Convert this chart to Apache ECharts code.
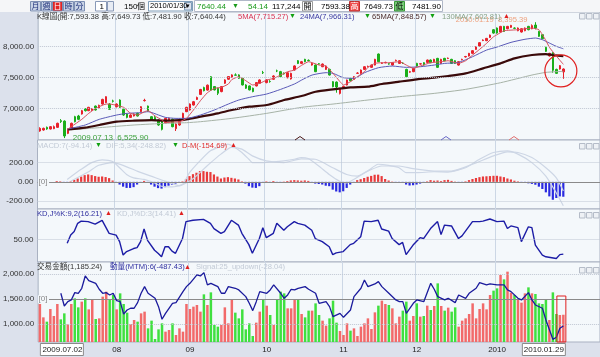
<!DOCTYPE html>
<html><head><meta charset="utf-8">
<script src="https://cdn.jsdelivr.net/npm/echarts@6/dist/echarts.min.js"></script>
<style>html,body{margin:0;padding:0;background:#dce1ec}#c{width:600px;height:357px}</style>
</head><body><div id="c"></div>
<script>
const FONT = '"Liberation Sans","Noto Sans CJK TC",sans-serif';

// ---- categories (trading days) ----
const monthDays = [
 ['2009.07',[2,3,6,7,8,9,10,13,14,15,16,17,20,21,22,23,24,27,28,29,30,31]],
 ['2009.08',[3,4,5,6,7,10,11,12,13,14,17,18,19,20,21,24,25,26,27,28,31]],
 ['2009.09',[1,2,3,4,7,8,9,10,11,14,15,16,17,18,21,22,23,24,25,28,29,30]],
 ['2009.10',[1,2,5,6,7,8,9,12,13,14,15,16,19,20,21,22,23,26,27,28,29,30]],
 ['2009.11',[2,3,4,5,6,9,10,11,12,13,16,17,18,19,20,23,24,25,26,27,30]],
 ['2009.12',[1,2,3,4,7,8,9,10,11,14,15,16,17,18,21,22,23,24,25,28,29,30,31]],
 ['2010.01',[4,5,6,7,8,11,12,13,14,15,18,19,20,21,22,25,26,27,28,29]]
];
const dates = [];
monthDays.forEach(([m, ds]) => ds.forEach(d => dates.push(m + '.' + String(d).padStart(2,'0'))));
const padCats = ['p1','p2','p3','p4','p5','p6','p7','p8','p9','p10'];
const categories = dates.concat(padCats);

// ---- price candles [open, close, low, high] ----
const ohlc = [
[6640,6683,6628,6700],[6656,6683,6645,6695],[6699,6672,6660,6712],[6672,6710,6665,6720],[6678,6710,6670,6728],
[6699,6764,6690,6775],[6807,6792,6770,6832],[6800,6560,6525.9,6812],[6602,6667,6590,6680],[6667,6764,6655,6775],
[6871,6790,6780,6885],[6882,6828,6815,6900],[6914,6968,6905,6980],[7000,6968,6955,7010],[6968,7022,6960,7030],
[6973,7000,6965,7010],[7043,6979,6970,7050],[7011,7054,7000,7065],[7075,7150,7065,7160],[7097,7194,7090,7200],
[7075,6990,6980,7090],[7125,7120,7100,7145],[7032,7075,7020,7085],[7140,7022,7010,7150],[6990,6898,6885,7000],
[6914,6860,6845,6925],[6860,6898,6850,6910],[6882,6914,6875,6925],[6925,6882,6875,6935],[6952,7032,6945,7040],
[7130,7135,7115,7160],[7043,6962,6955,7050],[6871,6817,6805,6880],[6860,6817,6810,6880],[6817,6737,6725,6825],
[6790,6667,6650,6800],[6774,6844,6765,6855],[6817,6844,6805,6855],[6828,6710,6700,6840],[6678,6753,6640,6765],
[6737,6828,6725,6840],[6807,6925,6800,6935],[6952,7022,6945,7030],[6979,7075,6970,7085],[7059,7113,7050,7125],
[7150,7180,7140,7195],[7230,7310,7220,7320],[7340,7290,7280,7355],[7300,7380,7290,7390],[7516,7300,7290,7525],
[7357,7303,7295,7365],[7330,7249,7220,7340],[7276,7357,7265,7365],[7410,7464,7400,7475],[7475,7518,7465,7525],
[7507,7545,7500,7555],[7545,7540,7535,7570],[7545,7491,7480,7555],[7491,7383,7375,7500],[7383,7330,7320,7395],
[7367,7303,7295,7375],[7330,7276,7265,7340],[7367,7421,7360,7430],[7410,7464,7400,7475],[7582,7580,7560,7610],
[7421,7464,7410,7475],[7440,7437,7420,7460],[7475,7528,7465,7540],[7610,7608,7590,7630],[7598,7518,7510,7610],
[7570,7562,7550,7585],[7500,7580,7490,7590],[7480,7570,7470,7580],[7625,7690,7615,7700],[7775,7730,7720,7785],
[7731,7758,7720,7770],[7796,7758,7750,7805],[7780,7774,7765,7795],[7704,7731,7695,7740],[7704,7597,7590,7715],
[7725,7720,7710,7735],[7677,7720,7670,7730],[7634,7688,7625,7695],[7634,7543,7535,7645],[7436,7355,7345,7445],
[7430,7350,7258,7440],[7247,7328,7230,7335],[7330,7360,7320,7370],[7382,7462,7375,7470],[7489,7451,7440,7500],
[7473,7516,7465,7525],[7570,7575,7560,7590],[7570,7624,7560,7632],[7634,7677,7625,7685],[7677,7682,7668,7695],
[7667,7704,7660,7712],[7704,7796,7698,7805],[7882,7758,7750,7890],[7731,7736,7722,7748],[7742,7747,7732,7758],
[7725,7720,7710,7735],[7704,7742,7696,7750],[7774,7780,7765,7792],[7731,7774,7722,7782],[7736,7731,7722,7748],
[7634,7516,7505,7645],[7590,7597,7580,7610],[7597,7651,7590,7660],[7731,7688,7680,7740],[7720,7725,7710,7735],
[7742,7704,7695,7750],[7747,7785,7740,7792],[7785,7742,7735,7795],[7758,7796,7750,7805],[7812,7667,7660,7820],
[7731,7796,7722,7805],[7812,7774,7765,7820],[7810,7815,7800,7825],[7796,7731,7722,7805],[7774,7731,7722,7782],
[7704,7758,7695,7766],[7790,7796,7780,7806],[7835,7842,7825,7852],[7850,7893,7842,7900],[7893,7936,7885,7945],
[7957,8000,7950,8008],[8011,8065,8005,8072],[8100,8108,8090,8118],[8097,8134,8090,8142],[8150,8188,8142,8196],
[8274,8220,8210,8285],[8301,8220,8210,8310],[8237,8328,8228,8336],[8328,8247,8238,8336],[8290,8328,8282,8336],
[8312,8344,8305,8352],[8301,8296,8285,8312],[8258,8301,8250,8310],[8237,8290,8228,8298],[8258,8301,8250,8310],
[8328,8274,8265,8336],[8290,8340,8282,8360],[8350,8300,8280,8395.39],[8247,8167,8158,8255],[8194,8130,8120,8202],
[7990,7925,7915,8000],[7850,7893,7842,7902],[7903,7620,7580,7910],[7634,7570,7560,7645],[7640,7694.58,7630,7705],
[7593.38,7640.44,7481.90,7649.73]
];

// ---- moving averages, read at sample points [index, value] ----
const ma5 = [[8,6672],[9,6710],[12,6828],[14,6925],[16,7005],[19,7075],[20,7075],[22,7054],[24,7022],[26,6925],[28,6898],[30,6952],[31,6968],[33,6882],[35,6817],[36,6774],[38,6785],[40,6790],[42,6844],[44,6979],[46,7129],[48,7258],[50,7328],[52,7344],[54,7398],[55,7470],[57,7516],[59,7452],[61,7382],[63,7409],[65,7462],[67,7489],[69,7543],[71,7597],[73,7624],[75,7700],[77,7758],[80,7704],[82,7688],[84,7570],[86,7436],[87,7382],[89,7436],[91,7516],[93,7597],[94,7667],[96,7731],[98,7742],[100,7742],[103,7758],[105,7704],[107,7651],[109,7688],[112,7742],[115,7758],[117,7774],[120,7731],[122,7774],[124,7866],[126,7957],[128,8054],[130,8161],[131,8194],[133,8258],[137,8274],[141,8301],[143,8274],[144,8194],[145,8100],[146,7990],[148,7849],[150,7715.27]];
const ma24 = [[8,6672],[13,6737],[17,6828],[22,6898],[25,6925],[29,6936],[31,6952],[34,6898],[36,6860],[39,6844],[42,6844],[46,6898],[50,6979],[54,7075],[57,7140],[61,7194],[65,7237],[69,7312],[73,7400],[75,7462],[78,7543],[82,7581],[84,7570],[87,7500],[90,7489],[93,7581],[97,7661],[101,7688],[105,7667],[109,7677],[113,7704],[116,7731],[120,7747],[124,7839],[128,7946],[131,7995],[135,8070],[139,8120],[142,8140],[144,8113],[146,8059],[148,8006],[150,7966.31]];
const ma65 = [[8,6667],[13,6694],[17,6737],[22,6790],[27,6807],[32,6817],[36,6807],[40,6817],[42,6828],[46,6871],[51,6925],[55,6979],[60,7032],[65,7059],[70,7140],[75,7204],[79,7274],[84,7312],[89,7344],[94,7355],[98,7398],[103,7436],[108,7473],[113,7500],[117,7527],[122,7570],[127,7651],[132,7731],[136,7812],[141,7866],[145,7882],[147,7866],[150,7848.57]];
const ma130 = [[8,6656],[17,6694],[27,6737],[36,6764],[42,6774],[46,6790],[55,6844],[65,6925],[75,7022],[84,7075],[94,7140],[103,7194],[113,7247],[122,7312],[132,7419],[141,7543],[145,7586],[150,7602.81]];

// ---- MACD ----
const macdHist = [
0,0,0,0,0,8,5,-5,-3,5,
20,35,55,70,77,70,60,53,56,50,
39,14,-10,-28,-50,-63,-63,-55,-28,-5,
10,-10,-28,-50,-65,-70,-55,-40,-30,-18,
-10,5,30,60,80,95,112,112,105,102,
77,55,35,45,49,42,35,25,5,-18,
-45,-60,-63,-45,-10,5,-5,8,-10,-5,
3,8,15,18,15,12,15,10,-5,-18,
-22,-28,-40,-45,-81,-100,-109,-98,-63,-28,
-5,18,28,40,53,62,74,75,60,30,
14,3,-5,-3,-5,-28,-38,-35,-28,-18,
-12,5,18,12,14,8,18,21,10,3,
-8,-3,5,18,30,40,49,56,58,60,
63,63,56,49,35,25,12,5,-3,-8,
-15,-21,-30,-50,-74,-109,-151,-186,-168,-151,
-154.69];
const difLine = [[8,25],[12,130],[15,200],[18,228],[21,211],[23,147],[25,77],[27,42],[30,25],[33,-11],[35,-46],[38,-53],[41,-28],[43,95],[46,218],[49,323],[52,369],[54,393],[56,358],[58,305],[60,235],[61,200],[64,200],[67,207],[70,218],[73,235],[75,253],[77,242],[80,165],[83,77],[86,7],[88,-11],[90,25],[94,112],[97,183],[100,172],[103,147],[105,95],[108,95],[113,105],[117,102],[122,147],[126,235],[130,305],[134,323],[137,288],[141,200],[145,60],[148,-116],[150,-248.82]];
const macdLine = [[9,7],[14,102],[17,172],[21,200],[24,172],[28,112],[32,60],[36,7],[40,-39],[44,32],[48,165],[52,288],[55,358],[58,340],[61,270],[65,218],[70,200],[75,238],[79,235],[84,147],[88,77],[91,60],[94,112],[98,165],[103,165],[107,137],[113,112],[118,112],[124,183],[130,270],[134,312],[137,305],[141,253],[145,147],[148,42],[150,-94.14]];

// ---- KD (%K) ----
const kLine = [[8,41],[9,60],[10,68],[11,87],[12,92],[14,91],[16,85],[18,94],[20,64],[22,60],[23,45],[24,14],[25,22],[27,29],[28,31],[29,45],[30,74],[31,48],[33,25],[34,18],[35,10],[36,33],[37,33],[38,23],[39,18],[41,52],[42,91],[44,94],[47,96],[49,87],[50,75],[52,64],[53,68],[55,94],[57,83],[58,64],[60,38],[61,18],[63,52],[64,77],[65,54],[67,64],[68,87],[70,71],[71,79],[73,91],[74,87],[76,83],[78,71],[79,52],[81,45],[83,33],[84,15],[85,19],[87,22],[89,38],[90,41],[92,56],[93,92],[95,91],[97,94],[98,74],[100,69],[101,52],[103,38],[104,43],[105,15],[107,37],[109,54],[110,52],[112,75],[114,91],[115,61],[116,83],[118,81],[120,52],[121,58],[124,91],[126,91],[127,92],[129,97],[131,91],[133,92],[134,75],[135,81],[137,77],[138,45],[140,79],[141,77],[142,37],[144,14],[145,10],[148,6],[149,15],[150,16.21]];

// ---- turnover (億) and momentum ----
const volume = [
1400,1133,1047,1300,1160,1400,1093,1213,993,1400,
1513,1333,1447,1513,1293,1493,1100,1113,1547,1647,
1480,1580,1293,1613,1400,1227,1000,1080,1047,1213,
1247,913,1067,700,893,1013,847,880,1013,780,
913,847,1400,1300,1347,1380,1247,1593,1380,1633,
980,947,980,1333,1013,1480,1227,1113,1293,893,
1013,760,1027,1247,1480,1367,1180,980,1480,1647,
1613,1313,1313,1493,1493,1200,1133,1267,1267,1413,
1180,1067,967,1113,1467,1027,860,780,1013,867,
913,760,947,1013,1113,900,1233,1367,1467,1400,
1380,1313,1013,1147,1267,1447,1067,1160,1413,1147,
1160,1367,1280,1360,1813,1360,1267,1327,1247,1333,
947,1067,1113,1200,1413,1113,1300,1413,1293,1580,
1667,1713,1980,1893,2047,1627,1580,1493,1427,1613,
1733,1613,1600,1413,1400,1493,1080,1633,1200,1180,
1185.24];
const mtm = [[6,110],[7,-122],[8,-43],[9,-12],[10,122],[11,110],[12,201],[13,426],[14,341],[16,292],[17,183],[18,110],[19,122],[20,79],[21,110],[22,-24],[23,-43],[24,-268],[25,-195],[26,-164],[27,-164],[28,-61],[29,110],[30,231],[31,110],[33,18],[34,-134],[35,-365],[36,-256],[38,-73],[39,-61],[41,140],[42,231],[43,292],[45,445],[46,426],[47,487],[48,262],[49,292],[51,231],[52,110],[53,110],[54,231],[56,201],[57,171],[59,49],[60,-73],[61,-207],[62,-43],[63,140],[65,110],[66,171],[67,262],[69,110],[70,18],[71,79],[72,183],[73,171],[74,200],[76,231],[77,183],[79,110],[80,-73],[82,-43],[83,-134],[84,-317],[86,-256],[87,-329],[89,-195],[90,49],[92,201],[93,353],[94,231],[96,280],[97,323],[98,231],[100,110],[102,-12],[103,-43],[104,-43],[105,-256],[107,-73],[108,-12],[110,-43],[112,292],[113,183],[114,49],[116,-12],[117,18],[119,-61],[120,79],[122,18],[123,110],[125,201],[126,305],[128,262],[129,280],[131,262],[133,262],[134,171],[135,140],[137,18],[138,-12],[140,122],[141,-12],[142,-104],[144,-164],[145,-378],[147,-731],[148,-694],[149,-530],[150,-487.43]];

// ---- axis tick labels ----
const priceTicks = [7000, 7500, 8000];
const macdTicks = [-200, 0, 200];
const kdTicks = [50];
const volTicks = [1000, 1500, 2000];

const fmt2 = v => Number(v).toLocaleString('en-US', {minimumFractionDigits:2, maximumFractionDigits:2});
const onlyTicks = list => v => list.indexOf(v) >= 0 ? fmt2(v) : '';
const monthStart = new Set();
dates.forEach((d, i) => { if (i > 0 && d.slice(0,7) !== dates[i-1].slice(0,7)) monthStart.add(i); });
const isUp = ohlc.map(c => c[1] >= c[0]);

const RED = '#e8202a', GREEN = '#1aae1a';
const PLOT_BG = '#f4f8fb';
const LF = 7.6; // legend font size
const gridDefs = [{top:12,height:128},{top:140,height:69},{top:209,height:53},{top:262,height:80}];

const chart = echarts.init(document.getElementById('c'), null, {renderer:'canvas'});
const option = {
  animation: false,
  backgroundColor: '#dce1ec',
  textStyle: {fontFamily: FONT},
  grid: gridDefs.map(g => ({left:37.5, right:0, top:g.top, height:g.height, show:true, backgroundColor:PLOT_BG, borderColor:'#a9b1c1', borderWidth:1})),
  xAxis: gridDefs.map((g, i) => ({
    type:'category', gridIndex:i, data:categories, boundaryGap:true,
    axisLine:{show:false}, axisTick:{show:false},
    axisLabel:{show: i === 3, interval:(idx) => monthStart.has(idx), margin:4, fontSize:8, color:'#222', fontFamily:FONT,
      formatter: v => v.slice(5,7) === '01' ? v.slice(0,4) : v.slice(5,7)},
    splitLine:{show:true, interval:(idx) => monthStart.has(idx), lineStyle:{color:'#ccd7e5', width:1}}
  })),
  yAxis: [
    {type:'value', gridIndex:0, min:6495, max:8560, splitNumber:4, splitLine:{show:false}, axisLine:{show:false}, axisTick:{show:false}, axisLabel:{formatter:onlyTicks(priceTicks), fontSize:8, color:'#333', margin:4, fontFamily:FONT}},
    {type:'value', gridIndex:1, min:-282, max:435, splitNumber:4, splitLine:{show:false}, axisLine:{show:false}, axisTick:{show:false}, axisLabel:{formatter:onlyTicks(macdTicks), fontSize:8, color:'#333', margin:4, fontFamily:FONT}},
    {type:'value', gridIndex:2, min:-2, max:120, splitNumber:2, splitLine:{show:false}, axisLine:{show:false}, axisTick:{show:false}, axisLabel:{formatter:onlyTicks(kdTicks), fontSize:8, color:'#333', margin:4, fontFamily:FONT}},
    {type:'value', gridIndex:3, min:640, max:2240, splitNumber:3, splitLine:{show:false}, axisLine:{show:false}, axisTick:{show:false}, axisLabel:{formatter:onlyTicks(volTicks), fontSize:8, color:'#333', margin:4, fontFamily:FONT}},
    {type:'value', gridIndex:3, min:-780, max:681, show:false, splitLine:{show:false}}
  ],
  series: [
    {type:'line', xAxisIndex:0, yAxisIndex:0, data:[], z:1, silent:true,
     markLine:{silent:true, symbol:'none', animation:false, label:{show:false}, lineStyle:{type:'dotted', color:'#bfc6d2', width:1},
       data: priceTicks.map(v => ({yAxis:v}))}},
    {type:'candlestick', xAxisIndex:0, yAxisIndex:0, data:ohlc, barWidth:2, z:3,
     itemStyle:{color:RED, color0:GREEN, borderColor:RED, borderColor0:GREEN, borderWidth:1}},
    {type:'line', xAxisIndex:0, yAxisIndex:0, data:ma130, symbol:'none', smooth:0.2, z:4, lineStyle:{color:'#a7b3a7', width:1}},
    {type:'line', xAxisIndex:0, yAxisIndex:0, data:ma65, symbol:'none', smooth:0.2, z:4, lineStyle:{color:'#3a0a0a', width:2.2}},
    {type:'line', xAxisIndex:0, yAxisIndex:0, data:ma24, symbol:'none', smooth:0.2, z:4, lineStyle:{color:'#5a5ab8', width:1}},
    {type:'line', xAxisIndex:0, yAxisIndex:0, data:ma5, symbol:'none', smooth:0.15, z:4, lineStyle:{color:'#d8505e', width:1}},

    {type:'line', xAxisIndex:1, yAxisIndex:1, data:[], z:1, silent:true,
     markLine:{silent:true, symbol:'none', animation:false, label:{show:false}, lineStyle:{type:'dotted', color:'#bfc6d2', width:1},
       data: [{yAxis:200},{yAxis:-200},{yAxis:0, lineStyle:{type:'solid', color:'#8a8a8a', width:1}}]}},
    {type:'bar', xAxisIndex:1, yAxisIndex:1, data:macdHist, barWidth:2.2, z:3,
     itemStyle:{color: p => p.value >= 0 ? '#e83a3a' : '#2a2ae0'}},
    {type:'line', xAxisIndex:1, yAxisIndex:1, data:difLine, symbol:'none', smooth:0.2, z:4, lineStyle:{color:'#cdd6e5', width:1.2}},
    {type:'line', xAxisIndex:1, yAxisIndex:1, data:macdLine, symbol:'none', smooth:0.2, z:4, lineStyle:{color:'#cdd6e5', width:1.2}},

    {type:'line', xAxisIndex:2, yAxisIndex:2, data:[], z:1, silent:true,
     markLine:{silent:true, symbol:'none', animation:false, label:{show:false}, lineStyle:{type:'dotted', color:'#bfc6d2', width:1},
       data: kdTicks.map(v => ({yAxis:v}))}},
    {type:'line', xAxisIndex:2, yAxisIndex:2, data:kLine, symbol:'none', z:4, lineStyle:{color:'#1c1ca6', width:1.4}},

    {type:'line', xAxisIndex:3, yAxisIndex:3, data:[], z:1, silent:true,
     markLine:{silent:true, symbol:'none', animation:false, label:{show:false}, lineStyle:{type:'dotted', color:'#bfc6d2', width:1},
       data: [{yAxis:2000},{yAxis:1000}]}},
    {type:'bar', xAxisIndex:3, yAxisIndex:3, data:volume, barWidth:2.5, z:3,
     itemStyle:{color: p => isUp[p.dataIndex] ? '#f26a6a' : '#3fe03f'}},
    {type:'line', xAxisIndex:3, yAxisIndex:4, data:[], z:2, silent:true,
     markLine:{silent:true, symbol:'none', animation:false, label:{show:false}, lineStyle:{type:'solid', color:'#8a8a8a', width:1},
       data: [{yAxis:0}]}},
    {type:'line', xAxisIndex:3, yAxisIndex:4, data:mtm, symbol:'none', z:5, lineStyle:{color:'#1a1a9c', width:1.3}}
  ]
};
chart.setOption(option);

// ---- overlays: toolbar, legends, annotations ----
const px = (yi, idx, val) => chart.convertToPixel({xAxisIndex: yi === 4 ? 3 : yi, yAxisIndex: yi}, [idx, val]);
const T = (text, x, y, fill, size, align) => ({type:'text', x, y, z:100, silent:true,
  style:{text, fill, font:(size||8)+'px '+FONT, align:align||'left', verticalAlign:'middle', textAlign:align||'left', textVerticalAlign:'middle'}});
const R = (x, y, w, h, fill, stroke, z) => ({type:'rect', z:z||90, silent:true, shape:{x, y, width:w, height:h}, style:{fill:fill||'none', stroke:stroke||null, lineWidth:1}});

const g = [];
// toolbar
g.push(R(0,0,600,12,'#f5f6f8',null,80));
['月','週','日','時','分'].forEach((t,i) => {
  const x = 30 + i*11;
  g.push(R(x+0.5,1.5,10,9.5, t==='日' ? '#e02424' : '#c9d3e6', '#7d8fb3'));
  g.push(T(t, x+5.5, 6.3, t==='日' ? '#ffffff' : '#1d2f78', 8, 'center'));
});
g.push(R(95.5,1.5,11,9.5,'#ffffff','#8a9ab8')); g.push(T('1',104,6.3,'#000',8,'right'));
g.push(R(107.5,1.5,6,9.5,'#e8ecf4','#8a9ab8'));
g.push(T('150',124,6.3,'#000',8)); g.push(T('個',137,6.3,'#000',8));
g.push(R(148.5,1.5,44,9.5,'#ffffff','#7f9db9')); g.push(T('2010/01/30',150,6.3,'#000',7.5));
g.push(R(184.5,2.5,7,7.5,'#dde4f0','#7f9db9')); g.push(T('▾',188,6.3,'#000',7,'center'));
g.push(R(194.5,0.5,248,11,'#ffffff','#b0b8c8'));
g.push(T('7640.44',197,6.3,'#1a9a1a',8)); g.push(T('▼',232,6.3,'#1a9a1a',7));
g.push(T('54.14',248,6.3,'#1a9a1a',8)); g.push(T('117,244',272,6.3,'#000',8));
g.push(R(302.5,1.5,10,9.5,'#ffffff','#999')); g.push(T('開',307.5,6.3,'#000',8,'center'));
g.push(T('7593.38',321,6.3,'#000',8));
g.push(R(349.5,1.5,10,9.5,'#f05050','#c03030')); g.push(T('高',354.5,6.3,'#fff',8,'center'));
g.push(T('7649.73',364,6.3,'#000',8));
g.push(R(394.5,1.5,10,9.5,'#78cc78','#3a9a3a')); g.push(T('低',399.5,6.3,'#000',8,'center'));
g.push(T('7481.90',412,6.3,'#000',8));

// panel icons on the right
[13,143,212,267].forEach(y => [579,586,593].forEach(x => g.push(R(x+0.5,y+0.5,5.5,5.5,'#eef1f5','#b5bcc8'))));

// max / min annotations
const pMax = px(0, 142, 8395.39);
g.push(T('2010.01.19  8,395.39', pMax[0]-8, pMax[1]-2, '#eea07c', LF, 'right'));
const pMin = px(0, 7, 6525.9);
g.push(T('2009.07.13  6,525.90', pMin[0]+8.5, pMin[1]-0.5, '#3aa03a', 8));

// price legend
const LY = 16.5;
g.push(T('K線圖(開:7,593.38 高:7,649.73 低:7,481.90 收:7,640.44)', 37, LY, '#333', LF));
g.push(T('5MA(7,715.27)', 238, LY, '#d83050', LF)); g.push(T('▼', 289, LY, '#10a010', 7));
g.push(T('24MA(7,966.31)', 300, LY, '#3838a0', LF)); g.push(T('▼', 364, LY, '#10a010', 7));
g.push(T('65MA(7,848.57)', 372, LY, '#4a2a2a', LF)); g.push(T('▼', 429, LY, '#10a010', 7));
g.push(T('130MA(7,602.81)', 442, LY, '#86a086', LF)); g.push(T('▲', 503, LY, '#e02020', 7));
// MACD legend
const MY = 145.5;
g.push(T('MACD:7(-94.14)', 37, MY, '#c2cad6', LF)); g.push(T('▼', 95, MY, '#10a010', 7));
g.push(T('DIF:5,34(-248.82)', 106, MY, '#c2cad6', LF)); g.push(T('▼', 172, MY, '#10a010', 7));
g.push(T('D-M(-154.69)', 182, MY, '#e03030', LF)); g.push(T('▲', 230, MY, '#e02020', 7));
// KD legend
const KY = 213.5;
g.push(T('KD,J%K:9,2(16.21)', 37, KY, '#3030a0', LF)); g.push(T('▲', 105, KY, '#e02020', 7));
g.push(T('KD,J%D:3(14.41)', 117, KY, '#c2cad6', LF)); g.push(T('▲', 178, KY, '#e02020', 7));
// volume legend
const VY = 267;
g.push(T('交易金額(1,185.24)', 37, VY, '#333', LF));
g.push(T('動量(MTM):6(-487.43)', 110, VY, '#3030a0', LF)); g.push(T('▲', 184, VY, '#e02020', 7));
g.push(T('Signal:25_updown(-28.04)', 196, VY, '#c2cad6', LF));

// [0] labels
const z1 = px(1, 0, 0), z2 = px(4, 0, 0);
[z1[1], z2[1]].forEach(y => { g.push(R(38, y-4, 11, 8, PLOT_BG, null, 95)); g.push(T('[0]', 38.5, y, '#888', 8)); });

// red circle around last candles
const pc = px(0, 149, 7609);
g.push({type:'circle', z:100, silent:true, shape:{cx:pc[0]+1, cy:pc[1], r:16}, style:{fill:'none', stroke:'#e02020', lineWidth:1.2}});

// hollow box on last volume bars
const b0 = px(3, 149, 1560), b1 = px(3, 150, 640);
g.push(R(b0[0]-3, b0[1], (b1[0]+2.5)-(b0[0]-3), b1[1]-b0[1], 'none', '#e02020', 100));

// small crossover marks at the bottom of the price panel
[[300,'#4a1a1a'],[446,'#6a6ac8'],[514,'#e07070']].forEach(([x,c]) => g.push({type:'polyline', z:100, silent:true,
  shape:{points:[[x-5,140],[x,136.5],[x+5,140]]}, style:{stroke:c, fill:'none', lineWidth:1}}));

// boxed first / last date labels
const d0 = px(3, 0, 640), d1 = px(3, 150, 640);
g.push(R(d0[0]+0.5, 343.5, 43, 12, '#ffffff', '#8a8a8a', 100)); g.push(T(dates[0], d0[0]+2.5, 349.6, '#222', 8));
g.push(R(d1[0]+2-43, 343.5, 43, 12, '#ffffff', '#8a8a8a', 100)); g.push(T(dates[dates.length-1], d1[0]+0.5, 349.6, '#222', 8, 'right'));

chart.setOption({graphic: g});
</script></body></html>
